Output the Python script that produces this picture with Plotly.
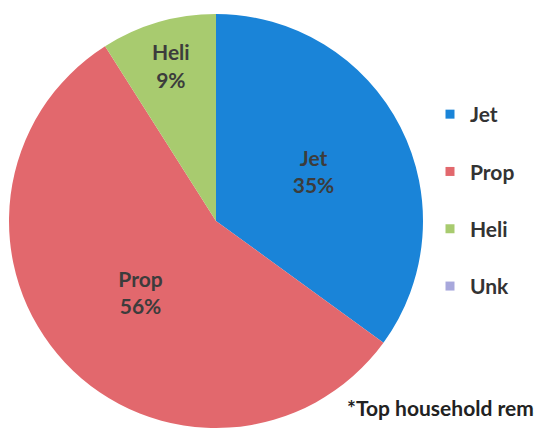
import plotly.graph_objects as go

categories = ["Jet", "Prop", "Heli", "Unk"]
shares = [35, 56, 9, 0]
colors = ["#1a84d8", "#e2686d", "#a8cb6f", "#a8a8dc"]
footnote = "*Top household remains"

W, H = 542, 428

fig = go.Figure()

slice_text = [f"{c}<br>{v}%" if v > 0 else "" for c, v in zip(categories, shares)]

fig.add_trace(go.Pie(
    labels=categories,
    values=shares,
    sort=False,
    direction="clockwise",
    rotation=0,
    marker=dict(colors=colors, line=dict(width=0)),
    text=slice_text,
    textinfo="text",
    textposition="inside",
    insidetextorientation="horizontal",
    textfont=dict(family="Lato", size=21, color="#3c3c3c", weight="bold"),
    domain=dict(x=[1 / W, 415 / W], y=[1 - 420 / H, 1 - 6 / H]),
    showlegend=False,
    hoverinfo="label+percent",
))

# legend entries (square markers) with spacing like the reference
for i, (c, col) in enumerate(zip(categories, colors)):
    fig.add_trace(go.Scatter(
        x=[None], y=[None], mode="markers", name=c,
        legendgroup=c,
        marker=dict(symbol="square", size=9, color=col),
        showlegend=True,
    ))

fig.update_layout(
    width=W, height=H,
    margin=dict(l=0, r=0, t=0, b=0),
    paper_bgcolor="white",
    plot_bgcolor="white",
    xaxis=dict(visible=False),
    yaxis=dict(visible=False),
    legend=dict(
        x=422 / W, y=1 - 86 / H, xanchor="left", yanchor="top",
        font=dict(family="Lato", size=21, color="#333333", weight="bold"),
        tracegroupgap=27,
        itemwidth=30,
        bgcolor="rgba(0,0,0,0)",
    ),
    annotations=[dict(
        x=337 / W, y=1 - 399 / H, xref="paper", yref="paper",
        xanchor="left", yanchor="middle", showarrow=False,
        text=f"<b>{footnote}</b>",
        font=dict(family="Lato", size=21, color="#222222"),
    )],
)

fig.write_html("out.html")
